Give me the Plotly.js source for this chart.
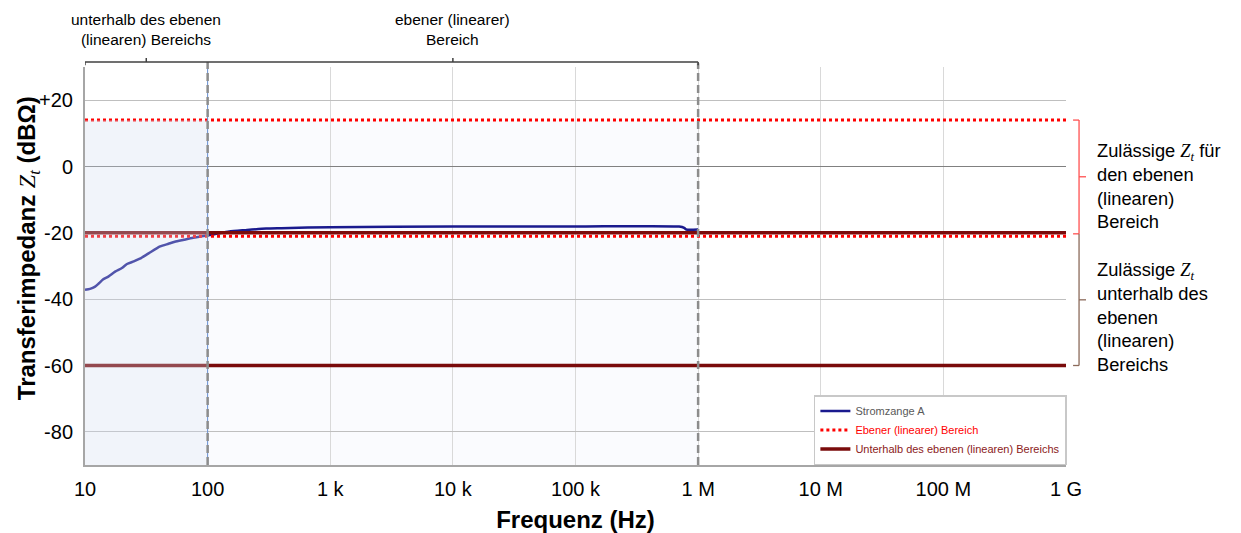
<!DOCTYPE html>
<html>
<head>
<meta charset="utf-8">
<script src="https://cdn.plot.ly/plotly-3.0.1.min.js"></script>
<style>html,body{margin:0;padding:0;background:#fff;}#chart{width:1241px;height:533px;}</style>
</head>
<body>
<div id="chart"></div>
<script>
// ---- data ----
const freqA = [10, 11, 12, 13, 14, 15.5, 17.6, 20, 22, 25, 28, 33, 41, 48, 54, 64, 76, 88, 100, 125, 150, 200, 300, 400, 1000, 10000, 100000, 700000, 770000, 800000, 1000000];
const zA    = [-37.2, -36.9, -36.3, -35.2, -34.1, -33.2, -31.7, -30.6, -29.4, -28.6, -27.8, -26.2, -24.1, -23.3, -22.7, -22.1, -21.5, -21.1, -20.8, -20.1, -19.6, -19.2, -18.7, -18.6, -18.3, -18.1, -18.1, -18.1, -18.5, -19.0, -19.0];
const limitFreq = [10, 1e9];
const linearLimits = [14, -21];      // Ebener (linearer) Bereich
const belowLimits = [-20, -60];      // Unterhalb des ebenen (linearen) Bereichs
const xTickVals = [10, 100, 1e3, 1e4, 1e5, 1e6, 1e7, 1e8, 1e9];
const xTickText = ['10', '100', '1 k', '10 k', '100 k', '1 M', '10 M', '100 M', '1 G'];
const yTickVals = [-80, -60, -40, -20, 0, 20];
const yTickText = ['-80', '-60', '-40', '-20', '0', '+20'];
const regionBounds = [10, 100, 1e6];  // below-linear / linear region edges

function twoLines(levels) {
  const x = [], y = [];
  levels.forEach((v, i) => {
    if (i > 0) { x.push(null); y.push(null); }
    x.push(limitFreq[0], limitFreq[1]); y.push(v, v);
  });
  return {x, y};
}
const lin = twoLines(linearLimits);
const bel = twoLines(belowLimits);

const traces = [
  {x: freqA, y: zA, type: 'scatter', mode: 'lines', name: '<span style="color:#595959">Stromzange A</span>',
   line: {color: '#1a1a8e', width: 2.5, shape: 'spline', smoothing: 0.6}, legendrank: 1},
  {x: bel.x, y: bel.y, type: 'scatter', mode: 'lines', name: '<span style="color:#8b1a1a">Unterhalb des ebenen (linearen) Bereichs</span>',
   line: {color: '#7a0b0b', width: 3.5}, legendrank: 3},
  {x: lin.x, y: lin.y, type: 'scatter', mode: 'lines', name: '<span style="color:#ff0000">Ebener (linearer) Bereich</span>',
   line: {color: '#ff0000', width: 3, dash: 'dot'}, legendrank: 2}
];

const pyTop = 1.0126;  // bracket height above plot (paper)
const shapes = [
  {type: 'rect', xref: 'x', yref: 'y', x0: regionBounds[1], x1: regionBounds[2], y0: -90, y1: linearLimits[0],
   fillcolor: '#fafbfe', line: {width: 0}, layer: 'below'},
  {type: 'rect', xref: 'x', yref: 'y', x0: regionBounds[0], x1: regionBounds[1], y0: -90, y1: linearLimits[0],
   fillcolor: 'rgba(210,220,238,0.3)', line: {width: 0}, layer: 'above'},
  {type: 'line', xref: 'x', yref: 'paper', x0: regionBounds[1], x1: regionBounds[1], y0: 0, y1: 1,
   line: {color: '#6b93d6', width: 1}, layer: 'above'},
  {type: 'line', xref: 'x', yref: 'paper', x0: regionBounds[1], x1: regionBounds[1], y0: 0, y1: pyTop,
   line: {color: '#8c8c8c', width: 2.5, dash: '8px,4px'}, layer: 'above'},
  {type: 'line', xref: 'x', yref: 'paper', x0: regionBounds[2], x1: regionBounds[2], y0: 0, y1: pyTop - 0.003,
   line: {color: '#8c8c8c', width: 2.5, dash: '8px,4px'}, layer: 'above'},
  {type: 'line', xref: 'x', yref: 'paper', x0: regionBounds[0], x1: regionBounds[2], y0: pyTop, y1: pyTop, line: {color: '#404040', width: 1.5}},
  {type: 'line', xref: 'x', yref: 'paper', x0: regionBounds[0], x1: regionBounds[0], y0: pyTop, y1: pyTop - 0.008, line: {color: '#404040', width: 1.5}},
  {type: 'line', xref: 'x', yref: 'paper', x0: regionBounds[2], x1: regionBounds[2], y0: pyTop, y1: pyTop - 0.008, line: {color: '#404040', width: 1.5}},
  {type: 'line', xref: 'x', yref: 'paper', x0: 31.6, x1: 31.6, y0: pyTop, y1: pyTop + 0.01, line: {color: '#404040', width: 1.5}},
  {type: 'line', xref: 'x', yref: 'paper', x0: 1e4, x1: 1e4, y0: pyTop, y1: pyTop + 0.01, line: {color: '#404040', width: 1.5}},
  {type: 'line', xref: 'paper', yref: 'y', x0: 1.0133, x1: 1.0133, y0: linearLimits[0], y1: -20.3, line: {color: '#ff5050', width: 1.3}},
  {type: 'line', xref: 'paper', yref: 'y', x0: 1.0072, x1: 1.0133, y0: linearLimits[0], y1: linearLimits[0], line: {color: '#ff5050', width: 1.3}},
  {type: 'line', xref: 'paper', yref: 'y', x0: 1.0072, x1: 1.0133, y0: -20.3, y1: -20.3, line: {color: '#ff5050', width: 1.3}},
  {type: 'line', xref: 'paper', yref: 'y', x0: 1.0133, x1: 1.0204, y0: -3.1, y1: -3.1, line: {color: '#ff5050', width: 1.3}},
  {type: 'line', xref: 'paper', yref: 'y', x0: 1.0133, x1: 1.0133, y0: -20.3, y1: belowLimits[1], line: {color: '#8b6a5a', width: 1.3}},
  {type: 'line', xref: 'paper', yref: 'y', x0: 1.0072, x1: 1.0133, y0: belowLimits[1], y1: belowLimits[1], line: {color: '#8b6a5a', width: 1.3}},
  {type: 'line', xref: 'paper', yref: 'y', x0: 1.0133, x1: 1.0204, y0: -40.2, y1: -40.2, line: {color: '#8b6a5a', width: 1.3}}
];

const zt = '<span style="font-family:\'Liberation Serif\',serif;font-weight:normal"><i>Z</i><sub><i>t</i></sub></span>';
const txtFont = {family: 'Liberation Sans, Arial, sans-serif', size: 18.3, color: '#000'};
const annotations = [
  {xref: 'paper', yref: 'paper', x: -0.058, y: 0.545, textangle: -90, showarrow: false, xanchor: 'center', yanchor: 'middle',
   text: '<b>Transferimpedanz ' + zt + ' (dBΩ)</b>', font: {family: 'Liberation Sans, Arial, sans-serif', size: 24, color: '#000'}},
  {xref: 'x', yref: 'paper', x: 1.5, y: 1.093, showarrow: false, xanchor: 'center', yanchor: 'middle',
   text: 'unterhalb des ebenen<br>(linearen) Bereichs', font: {family: 'Liberation Sans, Arial, sans-serif', size: 15.5, color: '#000'}},
  {xref: 'x', yref: 'paper', x: 4, y: 1.093, showarrow: false, xanchor: 'center', yanchor: 'middle',
   text: 'ebener (linearer)<br>Bereich', font: {family: 'Liberation Sans, Arial, sans-serif', size: 15.5, color: '#000'}},
  {xref: 'paper', yref: 'y', x: 1.0296, y: -5.9, showarrow: false, xanchor: 'left', yanchor: 'middle', align: 'left',
   text: 'Zulässige ' + zt + ' für<br>den ebenen<br>(linearen)<br>Bereich', font: txtFont},
  {xref: 'paper', yref: 'y', x: 1.0296, y: -45.3, showarrow: false, xanchor: 'left', yanchor: 'middle', align: 'left',
   text: 'Zulässige ' + zt + '<br>unterhalb des<br>ebenen<br>(linearen)<br>Bereichs', font: txtFont}
];

const layout = {
  width: 1241, height: 533,
  margin: {l: 85, r: 175, t: 67, b: 68},
  paper_bgcolor: '#fff', plot_bgcolor: '#fff',
  font: {family: 'Liberation Sans, Arial, sans-serif', color: '#000'},
  showlegend: true,
  legend: {x: 0.743, y: 0, xanchor: 'left', yanchor: 'bottom', bgcolor: '#fff', bordercolor: '#c8c8c8', borderwidth: 1.5,
           font: {size: 11, family: 'Liberation Sans, Arial, sans-serif'}, tracegroupgap: 0},
  xaxis: {type: 'log', range: [1, 9], tickvals: xTickVals, ticktext: xTickText, tickfont: {size: 20, color: '#000'},
          showgrid: true, gridcolor: '#d9d9d9', gridwidth: 1, showline: true, linecolor: '#a6a6a6', linewidth: 2,
          ticks: '', zeroline: false, ticklabelstandoff: 5,
          title: {text: '<b>Frequenz (Hz)</b>', font: {size: 24, color: '#000'}, standoff: 16}},
  yaxis: {range: [-90, 30], tickvals: yTickVals, ticktext: yTickText, tickfont: {size: 20, color: '#000'},
          showgrid: true, gridcolor: '#bfbfbf', gridwidth: 1, showline: true, linecolor: '#a6a6a6', linewidth: 2,
          ticks: '', zeroline: true, zerolinecolor: '#808080', zerolinewidth: 1, ticklabelstandoff: 6},
  shapes: shapes,
  annotations: annotations
};

Plotly.newPlot('chart', traces, layout, {displayModeBar: false, staticPlot: true});
</script>
</body>
</html>
